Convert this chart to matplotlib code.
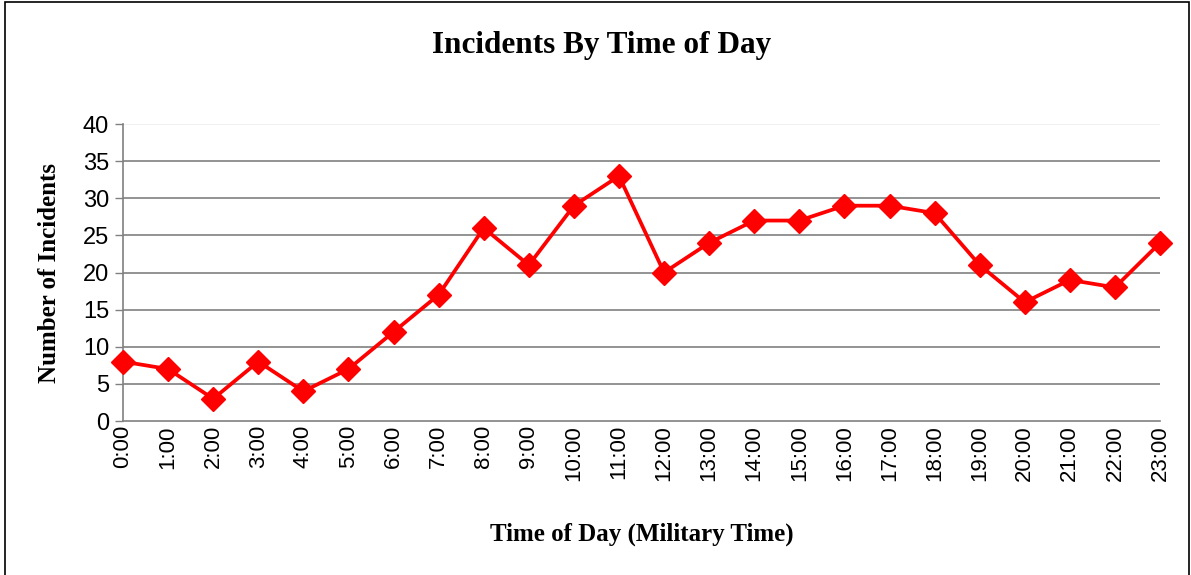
import numpy as np
import matplotlib
matplotlib.use("Agg")
import matplotlib.pyplot as plt
from matplotlib.patches import Rectangle

hours = [f"{h}:00" for h in range(24)]
incidents = [8, 7, 3, 8, 4, 7, 12, 17, 26, 21, 29, 33,
             20, 24, 27, 27, 29, 29, 28, 21, 16, 19, 18, 24]
y_ticks = [0, 5, 10, 15, 20, 25, 30, 35, 40]

serif = "Liberation Serif"
sans = "Liberation Sans"

fig = plt.figure(figsize=(11.91, 5.75), dpi=100)
ax = fig.add_axes([0.1033, 0.2678, 0.8707, 0.5165])

x = np.arange(len(hours))
ax.plot(x, incidents, color="#ff0000", linewidth=2.7, marker="D",
        markersize=12, markeredgecolor="#ff0000", zorder=3, clip_on=False)

ax.set_xlim(0, 23)
ax.set_ylim(0, 40)
ax.set_yticks(y_ticks)
ax.set_yticklabels([str(v) for v in y_ticks], fontfamily=sans, fontsize=17)
ax.set_xticks(x)
ax.set_xticklabels(hours, rotation=90, fontfamily=sans, fontsize=16)
ax.tick_params(axis="x", length=0, pad=3)
ax.tick_params(axis="y", length=6, width=1, color="#808080", pad=4)

for v in y_ticks[1:-1]:
    ax.axhline(v, color="#808080", linewidth=1.2, zorder=1)
ax.axhline(40, color="#eeeeee", linewidth=1.2, zorder=1)

for s in ["top", "right"]:
    ax.spines[s].set_visible(False)
ax.spines["left"].set_color("#808080")
ax.spines["bottom"].set_color("#808080")
ax.spines["left"].set_linewidth(1.2)
ax.spines["bottom"].set_linewidth(1.2)

ax.set_ylabel("Number of Incidents", fontfamily=serif, fontweight="bold",
              fontsize=18, labelpad=16)
ax.set_xlabel("Time of Day (Military Time)", fontfamily=serif,
              fontweight="bold", fontsize=18, labelpad=30)
fig.text(0.505, 0.921, "Incidents By Time of Day", ha="center", va="center",
         fontfamily=serif, fontweight="bold", fontsize=22.5)

fig.patches.append(Rectangle((0.004, -0.01), 0.994, 1.006,
                             transform=fig.transFigure, fill=False,
                             edgecolor="black", linewidth=1.2))

fig.savefig("out.png", dpi=100)
